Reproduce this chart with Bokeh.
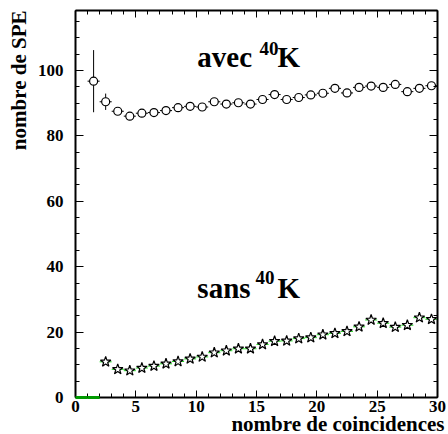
import numpy as np
from bokeh.plotting import figure
from bokeh.models import LinearAxis, FixedTicker, Range1d, Label, Title
from bokeh.embed import file_html
from bokeh.resources import INLINE

# ---- data ----
x_avec = [1.5, 2.5, 3.5, 4.5, 5.5, 6.5, 7.5, 8.5, 9.5, 10.5, 11.5, 12.5, 13.5, 14.5,
          15.5, 16.5, 17.5, 18.5, 19.5, 20.5, 21.5, 22.5, 23.5, 24.5, 25.5, 26.5,
          27.5, 28.5, 29.5]
avec = [96.7, 90.4, 87.5, 86.0, 86.9, 87.1, 87.7, 88.6, 89.0, 88.8, 90.4, 89.7, 90.1,
        89.7, 91.1, 92.6, 91.1, 91.7, 92.5, 93.0, 94.5, 93.1, 94.8, 95.2, 94.8, 95.7,
        93.5, 94.5, 95.3]
avec_err = [9.5, 2.5, 0.9, 0.9, 0.9, 0.9, 0.9, 0.9, 0.9, 0.9, 0.9, 0.9, 0.9, 0.9,
            0.9, 0.9, 0.9, 0.9, 0.9, 0.9, 0.9, 0.9, 0.9, 0.9, 0.9, 0.9, 0.9, 0.9, 0.9]

x_sans = [2.5, 3.5, 4.5, 5.5, 6.5, 7.5, 8.5, 9.5, 10.5, 11.5, 12.5, 13.5, 14.5,
          15.5, 16.5, 17.5, 18.5, 19.5, 20.5, 21.5, 22.5, 23.5, 24.5, 25.5, 26.5,
          27.5, 28.5, 29.5]
sans = [10.9, 8.6, 8.2, 9.0, 9.6, 10.3, 11.0, 11.8, 12.4, 13.7, 14.3, 14.9, 14.9,
        16.2, 17.2, 17.3, 18.0, 18.3, 19.2, 19.6, 20.2, 21.6, 23.7, 22.7, 21.5, 22.1,
        24.4, 23.9]
x_sans_empty = [0.5, 1.5]
sans_empty = [0.0, 0.0]

bin_width = 1.0
x_ticks = [0, 5, 10, 15, 20, 25, 30]
x_minor = list(range(0, 31))
y_ticks = [0, 20, 40, 60, 80, 100]
y_minor = [5, 10, 15, 25, 30, 35, 45, 50, 55, 65, 70, 75, 85, 90, 95, 105, 110, 115]

x_title = "nombre de coincidences"
y_title = "nombre de SPE"

FONT = "Liberation Serif"

xa = np.array(x_avec); ya = np.array(avec); ea = np.array(avec_err)
xs = np.array(x_sans); ys = np.array(sans)
xz = np.array(x_sans_empty); yz = np.array(sans_empty)
hw = bin_width / 2

p = figure(frame_width=362, frame_height=387,
           x_range=Range1d(0, 30), y_range=Range1d(0, 118.3),
           output_backend="svg", toolbar_location=None,
           min_border_left=75, min_border_right=11, min_border_top=10, min_border_bottom=37,
           x_axis_type=None, y_axis_type=None)
p.outline_line_color = None
p.background_fill_color = "white"
p.border_fill_color = "white"


def style_axis(ax, ticks, minor, major_len, minor_len, show_labels, standoff):
    ax.ticker = FixedTicker(ticks=ticks, minor_ticks=minor)
    ax.axis_line_width = 2
    ax.axis_line_color = "black"
    ax.major_tick_in = major_len
    ax.major_tick_out = 0
    ax.minor_tick_in = minor_len
    ax.minor_tick_out = 0
    ax.major_tick_line_color = "black"
    ax.minor_tick_line_color = "black"
    ax.major_tick_line_width = 1
    ax.minor_tick_line_width = 1
    if show_labels:
        ax.major_label_text_font = FONT
        ax.major_label_text_font_style = "bold"
        ax.major_label_text_font_size = "17px"
        ax.major_label_text_color = "black"
        ax.major_label_standoff = standoff
    else:
        ax.major_label_overrides = {t: "" for t in ticks}
        ax.major_label_text_font_size = "6px"
        ax.major_label_standoff = 0


bottom = LinearAxis(); style_axis(bottom, x_ticks, x_minor, 7, 4, True, 3)
top = LinearAxis(); style_axis(top, x_ticks, x_minor, 7, 4, False, 0)
left = LinearAxis(); style_axis(left, y_ticks, y_minor, 8, 4, True, 12)
right = LinearAxis(); style_axis(right, y_ticks, y_minor, 8, 4, False, 0)
p.add_layout(bottom, "below")
p.add_layout(top, "above")
p.add_layout(left, "left")
p.add_layout(right, "right")

# axis titles as side-panel titles
tx = Title(text=x_title, align="right", offset=-7, standoff=-10,
           text_font=FONT, text_font_style="bold", text_font_size="21px",
           text_color="black")
p.add_layout(tx, "below")
ty = Title(text=y_title, align="right", offset=0, standoff=8,
           text_font=FONT, text_font_style="bold", text_font_size="21px",
           text_color="black")
p.add_layout(ty, "left")

# empty bins of the "sans" histogram, drawn over the axis line
p.segment(x0=xz - hw, y0=yz, x1=xz + hw, y1=yz, line_color="#009a00", line_width=3,
          level="overlay")

# "sans" series: green bin-width bars + stars
p.segment(x0=xs - hw, y0=ys, x1=xs + hw, y1=ys, line_color="#22dd22", line_width=1)
p.scatter(xs, ys, marker="star", size=11, fill_color="white", line_color="black",
          line_width=1.2)

# "avec" series: black error bars + open circles
p.segment(x0=xa - hw, y0=ya, x1=xa + hw, y1=ya, line_color="black", line_width=1)
p.segment(x0=xa, y0=ya - ea, x1=xa, y1=ya + ea, line_color="black", line_width=1)
p.scatter(xa, ya, marker="circle", size=8, fill_color="white", line_color="black",
          line_width=1.2)


def lab(x, y, text, size, **kw):
    l = Label(x=x, y=y, text=text, text_font=FONT, text_font_style="bold",
              text_font_size=size, text_color="black", **kw)
    p.add_layout(l)


# annotations inside the plot
lab(10.1, 99.1, "avec", "29px")
lab(15.25, 104.7, "40", "19px")
lab(16.74, 99.1, "K", "29px")
lab(10.1, 28.5, "sans", "29px")
lab(14.92, 34.6, "40", "19px")
lab(16.74, 28.5, "K", "29px")

open("out.html", "w").write(file_html(p, INLINE))
